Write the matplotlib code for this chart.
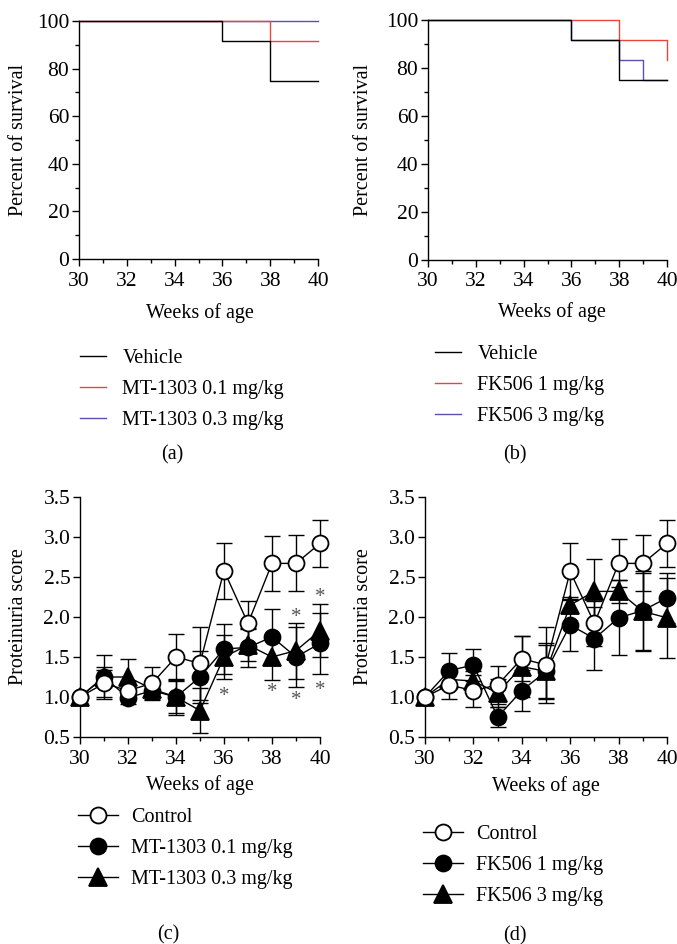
import matplotlib
matplotlib.use("Agg")
import matplotlib.pyplot as plt
from matplotlib.ticker import MultipleLocator, FormatStrFormatter

plt.rcParams['font.family'] = ['Liberation Serif', 'DejaVu Serif']
plt.rcParams['font.size'] = 14.5

W, H = 677, 944
FS = 14.5      # labels / legend
TFS = 15.5     # tick labels

# ---------------- data ----------------
# survival (Kaplan-Meier steps)
surv_a_labels = ["Vehicle", "MT-1303 0.1 mg/kg", "MT-1303 0.3 mg/kg"]
veh_a_x = [30, 36, 38, 40]
veh_a_y = [100, 91.7, 75, 75]
mt01_surv_x = [30, 38, 40]
mt01_surv_y = [100, 91.7, 91.7]
mt03_surv_x = [30, 40]
mt03_surv_y = [100, 100]

surv_b_labels = ["Vehicle", "FK506 1 mg/kg", "FK506 3 mg/kg"]
veh_b_x = [30, 36, 38, 40]
veh_b_y = [100, 91.7, 75, 75]
fk1_surv_x = [30, 38, 40]
fk1_surv_y = [100, 91.7, 83.3]
fk3_surv_x = [30, 36, 38, 39, 40]
fk3_surv_y = [100, 91.7, 83.3, 75, 75]

# proteinuria
weeks = [30, 31, 32, 33, 34, 35, 36, 37, 38, 39, 40]
prot_c_labels = ["Control", "MT-1303 0.1 mg/kg", "MT-1303 0.3 mg/kg"]
ctrl_c = [1.00, 1.17, 1.08, 1.17, 1.50, 1.42, 2.58, 1.92, 2.67, 2.67, 2.92]
ctrl_c_err = [0.0, 0.17, 0.12, 0.21, 0.29, 0.46, 0.35, 0.28, 0.34, 0.35, 0.29]
mt01_c = [1.00, 1.25, 0.99, 1.08, 1.00, 1.25, 1.60, 1.62, 1.75, 1.50, 1.67]
mt01_c_err = [0.0, 0.27, 0.08, 0.10, 0.22, 0.33, 0.31, 0.24, 0.35, 0.37, 0.38]
mt03_c = [1.00, 1.25, 1.25, 1.10, 1.00, 0.83, 1.50, 1.65, 1.50, 1.58, 1.83]
mt03_c_err = [0.0, 0.13, 0.22, 0.10, 0.20, 0.28, 0.28, 0.20, 0.29, 0.35, 0.33]
star_c_x = [36, 38, 39, 40, 39, 40]
star_c_y = [1.05, 1.10, 1.00, 1.12, 2.04, 2.29]

prot_d_labels = ["Control", "FK506 1 mg/kg", "FK506 3 mg/kg"]
ctrl_d = [1.00, 1.15, 1.08, 1.15, 1.48, 1.40, 2.57, 1.92, 2.67, 2.67, 2.92]
ctrl_d_err = [0.0, 0.18, 0.20, 0.24, 0.28, 0.47, 0.36, 0.28, 0.30, 0.35, 0.29]
fk1_d = [1.00, 1.33, 1.40, 0.75, 1.08, 1.32, 1.90, 1.73, 1.99, 2.08, 2.24]
fk1_d_err = [0.0, 0.22, 0.20, 0.12, 0.26, 0.35, 0.33, 0.39, 0.47, 0.50, 0.31]
fk3_d = [1.00, 1.22, 1.20, 1.05, 1.38, 1.32, 2.15, 2.32, 2.32, 2.07, 1.99]
fk3_d_err = [0.0, 0.12, 0.13, 0.18, 0.38, 0.33, 0.10, 0.40, 0.14, 0.48, 0.50]

panel_letters = ["(a)", "(b)", "(c)", "(d)"]

RED = '#e8453c'
BLUE = '#5a50b4'

fig = plt.figure(figsize=(W / 100, H / 100), dpi=100)


def add_ax(l, t, r, b):
    return fig.add_axes([l / W, 1 - b / H, (r - l) / W, (b - t) / H])


def fx(x):
    return x / W


def fy(y):
    return 1 - y / H


def style(ax, ylim, ymaj, ymin=None):
    ax.set_xlim(30, 40)
    ax.set_ylim(*ylim)
    for s in ['top', 'right']:
        ax.spines[s].set_visible(False)
    for s in ['left', 'bottom']:
        ax.spines[s].set_linewidth(1.0)
    ax.xaxis.set_major_locator(MultipleLocator(2))
    ax.xaxis.set_minor_locator(MultipleLocator(1))
    ax.yaxis.set_major_locator(MultipleLocator(ymaj))
    if ymin:
        ax.yaxis.set_minor_locator(MultipleLocator(ymin))
    ax.tick_params(which='major', direction='out', length=5, width=1, labelsize=TFS)
    ax.tick_params(which='minor', direction='out', length=3, width=1)
    ax.tick_params(axis='x', which='major', pad=4)
    ax.tick_params(axis='y', which='major', pad=2)


# ---------- survival panels ----------
def survival(ax, series, labels, leg_anchor, ylab_x):
    lines = []
    for (x, y, c) in series:
        ln, = ax.step(x, y, where='post', color=c, lw=1.0, clip_on=False)
        lines.append(ln)
    style(ax, (0, 100), 20, 10)
    ax.set_ylabel("Percent of survival", fontsize=FS)
    ax.yaxis.set_label_coords(ylab_x, 0.5)
    ax.legend(lines[::-1], labels, loc='upper left',
              bbox_to_anchor=(fx(leg_anchor[0]), fy(leg_anchor[1])),
              bbox_transform=fig.transFigure, frameon=False, fontsize=FS,
              handlelength=1.3, handletextpad=0.8, labelspacing=0.58,
              borderpad=0, borderaxespad=0)


ax_a = add_ax(79, 21, 318, 259)
survival(ax_a, [(mt03_surv_x, mt03_surv_y, BLUE), (mt01_surv_x, mt01_surv_y, RED),
                (veh_a_x, veh_a_y, 'black')], surv_a_labels, (80, 349), -0.213)

ax_b = add_ax(428, 20, 667, 260)
survival(ax_b, [(fk3_surv_x, fk3_surv_y, BLUE), (fk1_surv_x, fk1_surv_y, RED),
                (veh_b_x, veh_b_y, 'black')], surv_b_labels, (435, 345), -0.23)


# ---------- proteinuria panels ----------
def prot(ax, data, labels, leg_anchor, ylab_x):
    styles = [dict(marker='^', ms=13, mfc='black'),
              dict(marker='o', ms=11.5, mfc='black'),
              dict(marker='o', ms=11.5, mfc='white')]
    handles = []
    for (y, e), st in zip(data, styles):
        ax.errorbar(weeks, y, yerr=e, fmt='none', ecolor='black', elinewidth=1.0,
                    capsize=6, capthick=1.0, clip_on=False, zorder=2)
        ln, = ax.plot(weeks, y, color='black', lw=1.0, mec='black', mew=1.3,
                      clip_on=False, zorder=3, **st)
        handles.append(ln)
    style(ax, (0.5, 3.5), 0.5)
    ax.yaxis.set_major_formatter(FormatStrFormatter('%.1f'))
    ax.set_ylabel("Proteinuria score", fontsize=FS)
    ax.yaxis.set_label_coords(ylab_x, 0.5)
    ax.legend(handles[::-1], labels, loc='upper left',
              bbox_to_anchor=(fx(leg_anchor[0]), fy(leg_anchor[1])),
              bbox_transform=fig.transFigure, frameon=False, fontsize=FS,
              handlelength=2.0, handletextpad=0.65, labelspacing=0.6,
              borderpad=0, borderaxespad=0, numpoints=1)


ax_c = add_ax(80, 497, 320, 737)
prot(ax_c, [(mt03_c, mt03_c_err), (mt01_c, mt01_c_err), (ctrl_c, ctrl_c_err)],
     prot_c_labels, (78, 808), -0.217)
for sx, sy in zip(star_c_x, star_c_y):
    ax_c.text(sx, sy - 0.04, "*", ha='center', va='center', fontsize=15, color='#555555')

ax_d = add_ax(425, 497, 667, 737)
prot(ax_d, [(fk3_d, fk3_d_err), (fk1_d, fk1_d_err), (ctrl_d, ctrl_d_err)],
     prot_d_labels, (423, 825), -0.215)

# x labels and panel letters
for (x, y) in [(200, 313), (552, 312), (200, 785), (546, 786)]:
    fig.text(fx(x), fy(y), "Weeks of age", ha='center', va='center', fontsize=FS)
for lab, (x, y) in zip(panel_letters, [(172, 455), (515, 455), (168, 935), (515, 936)]):
    fig.text(fx(x), fy(y), lab, ha='center', va='center', fontsize=FS)

fig.savefig("out.png", dpi=100)
